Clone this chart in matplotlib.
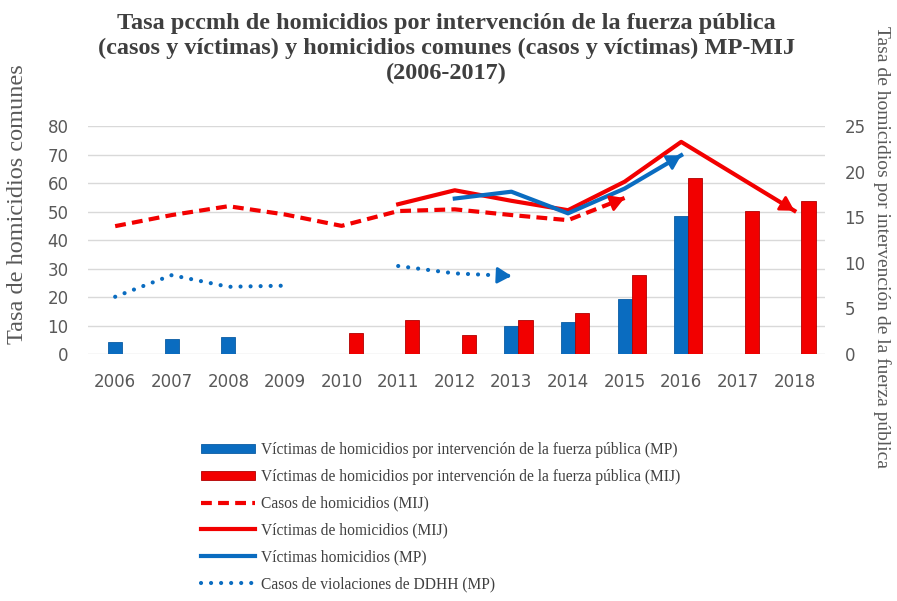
import numpy as np
import matplotlib
matplotlib.use('Agg')
import matplotlib.pyplot as plt
from matplotlib.lines import Line2D

# datos
years = [2006, 2007, 2008, 2009, 2010, 2011, 2012, 2013, 2014, 2015, 2016, 2017, 2018]
bar_mp = [1.3, 1.7, 1.9, np.nan, np.nan, np.nan, np.nan, 3.1, 3.5, 6.0, 15.1, np.nan, np.nan]
bar_mij = [np.nan, np.nan, np.nan, np.nan, 2.3, 3.7, 2.1, 3.75, 4.55, 8.65, 19.35, 15.7, 16.75]

casos_mij_x = [2006, 2007, 2008, 2009, 2010, 2011, 2012, 2013, 2014, 2015]
casos_mij = [44.9, 48.8, 51.9, 49.0, 45.0, 50.2, 50.8, 48.8, 47.0, 54.8]

vict_mij_x = [2011, 2012, 2013, 2014, 2015, 2016, 2018]
vict_mij = [52.6, 57.5, 53.8, 50.5, 60.5, 74.5, 50.3]

vict_mp_x = [2012, 2013, 2014, 2015, 2016]
vict_mp = [54.6, 57.0, 49.4, 58.1, 69.8]

ddhh_x1 = [2006, 2007, 2008, 2009]
ddhh_1 = [20.1, 27.7, 23.6, 24.0]
ddhh_x2 = [2011, 2012, 2013]
ddhh_2 = [30.9, 28.3, 27.4]

left_ticks = [0, 10, 20, 30, 40, 50, 60, 70, 80]
right_ticks = [0, 5, 10, 15, 20, 25]

BLUE = '#0A6CC0'
RED = '#F20000'
GRAY = '#595959'
SERIF = 'Liberation Serif'

fig = plt.figure(figsize=(8.97, 6.01), dpi=100)
ax = fig.add_axes([0.0981, 0.411, 0.8216, 0.379])
axb = ax.twinx()
axl = ax.twinx()

# ejes
ax.set_xlim(2005.52, 2018.54)
ax.set_ylim(0, 80)
ax.set_yticks(left_ticks)
ax.set_xticks(years)
ax.grid(axis='y', color='#D9D9D9', lw=1)
ax.set_axisbelow(True)
ax.tick_params(axis='y', length=0, pad=14, labelsize=12, labelcolor=GRAY)
ax.tick_params(axis='x', length=0, pad=14, labelsize=12, labelcolor=GRAY)

axb.set_ylim(0, 25)
axb.set_yticks(right_ticks)
axb.tick_params(axis='y', length=0, pad=14, labelsize=12, labelcolor=GRAY)

axl.set_ylim(0, 80)
axl.set_yticks([])

for a in (ax, axb, axl):
    for s in a.spines.values():
        s.set_visible(False)

# barras (eje derecho)
yrs = np.array(years)
w = 0.25
b1 = axb.bar(yrs, bar_mp, width=w, color=BLUE, edgecolor='#0B5CA3', lw=0.6)
b2 = axb.bar(yrs + w, bar_mij, width=w, color=RED, edgecolor='#B00000', lw=0.6)


def arrow_end(a, xs, ys, color):
    x0, y0 = xs[-2], ys[-2]
    x1, y1 = xs[-1], ys[-1]
    xt = x1 - 0.15 * (x1 - x0)
    yt = y1 - 0.15 * (y1 - y0)
    a.annotate('', xy=(x1, y1), xytext=(xt, yt),
               arrowprops=dict(arrowstyle='-|>,head_length=0.6,head_width=0.35',
                               color=color, lw=2, shrinkA=0, shrinkB=0,
                               mutation_scale=14))


# lineas (eje izquierdo)
axl.plot(casos_mij_x, casos_mij, color=RED, lw=3, ls=(0, (2.6, 1.5)))
arrow_end(axl, casos_mij_x, casos_mij, RED)
axl.plot(vict_mij_x, vict_mij, color=RED, lw=3)
arrow_end(axl, vict_mij_x, vict_mij, RED)
axl.plot(vict_mp_x, vict_mp, color=BLUE, lw=3)
arrow_end(axl, vict_mp_x, vict_mp, BLUE)
dot = dict(color=BLUE, lw=3, ls=(0, (0.01, 2.4)), dash_capstyle='round')
axl.plot(ddhh_x1, ddhh_1, **dot)
axl.plot(ddhh_x2, ddhh_2, **dot)
arrow_end(axl, ddhh_x2, ddhh_2, BLUE)

# textos
fig.text(0.498, 1 - 13 / 601,
         'Tasa pccmh de homicidios por intervención de la fuerza pública\n'
         '(casos y víctimas) y homicidios comunes (casos y víctimas) MP-MIJ\n'
         '(2006-2017)',
         ha='center', va='top', family=SERIF, fontweight='bold', fontsize=17.5,
         color='#3F3F3F', linespacing=1.24)
fig.text(18 / 897, 1 - 204 / 601, 'Tasa de homicidios comunes', rotation=90,
         ha='center', va='center', family=SERIF, fontsize=17.5, color=GRAY)
fig.text(882 / 897, 1 - 247 / 601,
         'Tasa de homicidios por intervención de la fuerza pública', rotation=270,
         ha='center', va='center', family=SERIF, fontsize=14, color=GRAY)

# leyenda
handles = [
    b1, b2,
    Line2D([], [], color=RED, lw=3, ls=(0, (2.6, 1.5))),
    Line2D([], [], color=RED, lw=3),
    Line2D([], [], color=BLUE, lw=3),
    Line2D([], [], **dot),
]
labels = [
    'Víctimas de homicidios por intervención de la fuerza pública (MP)',
    'Víctimas de homicidios por intervención de la fuerza pública (MIJ)',
    'Casos de homicidios (MIJ)',
    'Víctimas de homicidios (MIJ)',
    'Víctimas homicidios (MP)',
    'Casos de violaciones de DDHH (MP)',
]
fig.legend(handles, labels, loc='upper left', bbox_to_anchor=(193 / 897, 1 - 434 / 601),
           frameon=False, prop={'family': SERIF, 'size': 11.2}, labelcolor='#404040',
           handlelength=3.5, handleheight=0.5, handletextpad=0.4, labelspacing=0.7,
           borderpad=0)

fig.savefig('out.png', dpi=100)
